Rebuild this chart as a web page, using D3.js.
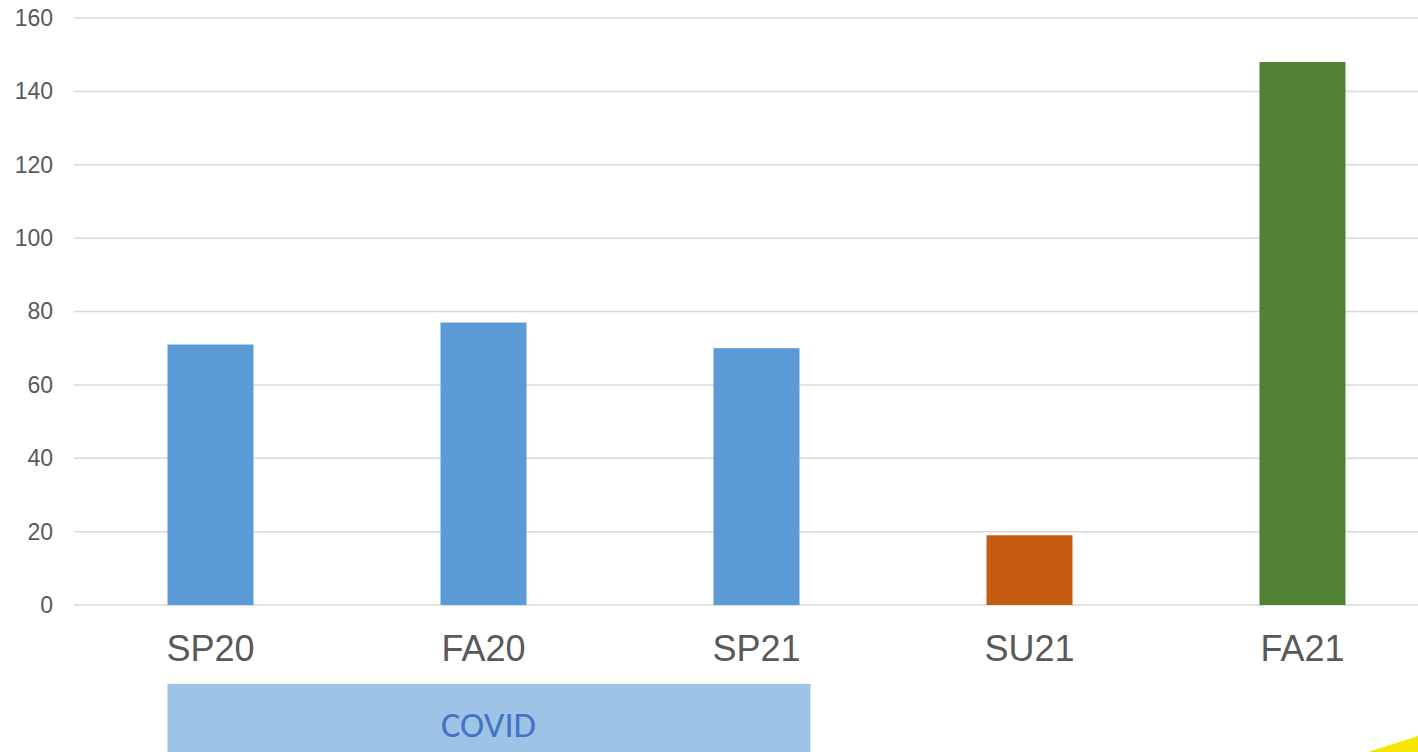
<!DOCTYPE html>
<html><head><meta charset="utf-8">
<script src="https://cdn.jsdelivr.net/npm/d3@7"></script>
<style>html,body{margin:0;padding:0;background:#fff;overflow:hidden}</style>
</head><body><svg id="c" width="1418" height="752"></svg>
<script>
const categories = ["SP20","FA20","SP21","SU21","FA21"];
const values = [71,77,70,19,148];
const barColors = ["#5B9BD5","#5B9BD5","#5B9BD5","#C55A11","#538135"];
const yTicks = [0,20,40,60,80,100,120,140,160];
const covidLabel = "COVID";
const covidSpan = ["SP20","SP21"];

(function(){
const svg = d3.select("#c");
const mLeft = 74, mRight = 74 + 5*273, mTop = 18, mBottom = 605;
const x = d3.scaleBand().domain(categories).range([mLeft,mRight]).paddingInner(0.685).paddingOuter(0.3425);
const y = d3.scaleLinear().domain([0,160]).range([mBottom,mTop]);

// gridlines
svg.append("g").selectAll("line").data(yTicks).join("line")
  .attr("x1",mLeft).attr("x2",1418)
  .attr("y1",d=>y(d)).attr("y2",d=>y(d))
  .attr("stroke","#D9D9D9").attr("stroke-width",1.5);

// y axis labels
const yAxis = d3.axisLeft(y).tickValues(yTicks).tickSize(0).tickPadding(0);
const gy = svg.append("g").attr("transform",`translate(53,0)`).call(yAxis);
gy.select(".domain").remove();
gy.selectAll("text").attr("font-family","'Liberation Sans',Arial,sans-serif")
  .attr("font-size",23).attr("fill","#595959");

// bars
svg.append("g").selectAll("rect").data(categories).join("rect")
  .attr("x",d=>x(d)).attr("width",x.bandwidth())
  .attr("y",(d,i)=>y(values[i])).attr("height",(d,i)=>y(0)-y(values[i]))
  .attr("fill",(d,i)=>barColors[i]);

// x axis labels
const xAxis = d3.axisBottom(x).tickSize(0).tickPadding(0);
const gx = svg.append("g").attr("transform",`translate(0,${mBottom+30})`).call(xAxis);
gx.select(".domain").remove();
gx.selectAll("text").attr("font-family","'Liberation Sans',Arial,sans-serif")
  .attr("font-size",36).attr("fill","#595959").attr("dy","0.71em");

// COVID box
const bx0 = x(covidSpan[0]), bx1 = x(covidSpan[1]) + x.bandwidth() + 11;
svg.append("rect").attr("x",bx0).attr("y",684).attr("width",bx1-bx0).attr("height",70)
  .attr("fill","#9DC3E6");
svg.append("text").attr("x",488.5).attr("y",737).attr("text-anchor","middle")
  .attr("font-family","Carlito,'Open Sans',sans-serif")
  .attr("font-size",34).attr("textLength",95).attr("lengthAdjust","spacingAndGlyphs")
  .attr("fill","#4472C4").text(covidLabel);

// yellow shape corner
svg.append("path").attr("d","M1368,752 L1418,736 L1418,752 Z").attr("fill","#F5E600");
})();
</script></body></html>
